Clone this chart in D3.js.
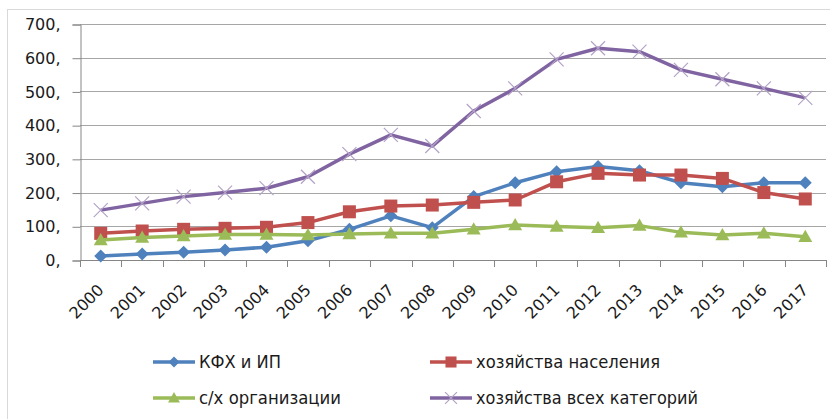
<!doctype html>
<html lang="ru">
<head>
<meta charset="utf-8" />
<title>Хозяйства</title>
<script src="https://d3js.org/d3.v7.min.js"></script>
<style>
  body { margin: 0; background: #fff; }
  svg { display: block; font-family: "DejaVu Sans", Verdana, sans-serif; }
</style>
</head>
<body>
<div id="chart"></div>
<script>
// years on the x axis
var years = ["2000","2001","2002","2003","2004","2005","2006","2007","2008",
             "2009","2010","2011","2012","2013","2014","2015","2016","2017"];

// values
var kfh   = [12, 18, 23, 30, 38, 57, 91, 131, 96, 188, 229, 262, 277, 265, 229, 217, 229, 229];
var naseleniya = [79, 86, 91, 94, 97, 111, 143, 160, 163, 171, 178, 232, 257, 252, 252, 242, 200, 181];
var orgs  = [59, 67, 71, 76, 76, 74, 77, 79, 79, 91, 104, 99, 96, 102, 82, 74, 79, 69];
var vse   = [148, 168, 188, 200, 213, 247, 314, 371, 338, 442, 509, 595, 628, 618, 564, 536, 509, 481];

var yTicks = [0, 100, 200, 300, 400, 500, 600, 700];

var series = [
  { name: "КФХ и ИП", values: kfh, color: "#4F81BD", marker: "diamond" },
  { name: "хозяйства населения", values: naseleniya, color: "#C0504D", marker: "square" },
  { name: "с/х организации", values: orgs, color: "#9BBB59", marker: "triangle" },
  { name: "хозяйства всех категорий", values: vse, color: "#8064A2", marker: "cross" }
];

var width = 830, height = 419,
    plot = { left: 80, right: 826, top: 24, bottom: 260 };

var svg = d3.select("#chart").append("svg")
    .attr("width", width)
    .attr("height", height);

// outer chart frame
svg.append("rect")
    .attr("x", 7.5).attr("y", 9.5)
    .attr("width", 840).attr("height", 430)
    .attr("fill", "none")
    .attr("stroke", "#d9d9d9");

var x = d3.scaleBand().domain(years).range([plot.left, plot.right]).padding(0);
var y = d3.scaleLinear().domain([0, 700]).range([plot.bottom, plot.top]);
var cx = function(i) { return x(years[i]) + x.bandwidth() / 2; };

// gridlines
svg.append("g")
    .selectAll("line")
    .data(yTicks.filter(function(d) { return d > 0; }))
    .enter().append("line")
    .attr("x1", plot.left).attr("x2", plot.right)
    .attr("y1", function(d) { return Math.round(y(d)) + 0.5; })
    .attr("y2", function(d) { return Math.round(y(d)) + 0.5; })
    .attr("stroke", "#a6a6a6")
    .attr("stroke-width", 1);

// y axis
var yAxis = d3.axisLeft(y).tickValues(yTicks).tickSize(8).tickPadding(12)
    .tickFormat(function(d) { return d + ","; });
svg.append("g")
    .attr("transform", "translate(" + (plot.left + 0.5) + ",0.5)")
    .call(yAxis)
    .call(function(g) {
      g.select(".domain").attr("stroke", "#868686");
      g.selectAll(".tick line").attr("stroke", "#868686");
      g.selectAll("text").attr("font-size", 16).attr("fill", "#1a1a1a")
        .attr("font-family", "DejaVu Sans");
    });

// x axis: ticks at band boundaries
svg.append("line")
    .attr("x1", plot.left).attr("x2", plot.right)
    .attr("y1", plot.bottom + 0.5).attr("y2", plot.bottom + 0.5)
    .attr("stroke", "#868686");
var bounds = years.map(function(d) { return x(d); }).concat([plot.right]);
svg.append("g").selectAll("line")
    .data(bounds)
    .enter().append("line")
    .attr("x1", function(d) { return Math.round(d) + 0.5; })
    .attr("x2", function(d) { return Math.round(d) + 0.5; })
    .attr("y1", plot.bottom).attr("y2", plot.bottom + 7)
    .attr("stroke", "#868686");

svg.append("g").selectAll("text")
    .data(years)
    .enter().append("text")
    .attr("transform", function(d, i) { return "translate(" + (cx(i) + 4) + "," + 291 + ") rotate(-45)"; })
    .attr("text-anchor", "end")
    .attr("font-size", 16)
    .attr("fill", "#1a1a1a")
    .text(function(d) { return d; });

// markers
function drawMarker(g, type, px, py, color, scale) {
  var s = scale || 1;
  if (type === "diamond") {
    var r = 6.5 * s;
    g.append("path")
      .attr("d", "M" + px + "," + (py - r) + "L" + (px + r) + "," + py + "L" + px + "," + (py + r) + "L" + (px - r) + "," + py + "Z")
      .attr("fill", color);
  } else if (type === "square") {
    var h = 6.5 * s;
    g.append("rect")
      .attr("x", px - h).attr("y", py - h)
      .attr("width", 2 * h).attr("height", 2 * h)
      .attr("fill", color);
  } else if (type === "triangle") {
    var t = 7 * s;
    g.append("path")
      .attr("d", "M" + px + "," + (py - t) + "L" + (px + t) + "," + (py + t * 0.75) + "L" + (px - t) + "," + (py + t * 0.75) + "Z")
      .attr("fill", color);
  } else if (type === "cross") {
    var c = 7 * s;
    g.append("path")
      .attr("d", "M" + (px - c) + "," + (py - c) + "L" + (px + c) + "," + (py + c) + "M" + (px - c) + "," + (py + c) + "L" + (px + c) + "," + (py - c))
      .attr("stroke", "#b3a2c7")
      .attr("stroke-width", 1.2)
      .attr("fill", "none");
  }
}

var line = d3.line()
    .x(function(d, i) { return cx(i); })
    .y(function(d) { return y(d); });

series.forEach(function(s) {
  var g = svg.append("g");
  g.append("path")
    .datum(s.values)
    .attr("d", line)
    .attr("fill", "none")
    .attr("stroke", s.color)
    .attr("stroke-width", 3.5)
    .attr("stroke-linejoin", "round");
  s.values.forEach(function(v, i) {
    drawMarker(g, s.marker, cx(i), y(v), s.color);
  });
});

// legend
var legendPos = [
  { x: 153, y: 362 }, { x: 430, y: 362 },
  { x: 153, y: 398 }, { x: 430, y: 398 }
];
var legendWidths = [82, 184, 142, 222];
series.forEach(function(s, i) {
  var p = legendPos[i];
  var g = svg.append("g");
  g.append("line")
    .attr("x1", p.x).attr("x2", p.x + 42)
    .attr("y1", p.y).attr("y2", p.y)
    .attr("stroke", s.color)
    .attr("stroke-width", 3.5);
  drawMarker(g, s.marker, p.x + 21, p.y, s.color, 0.85);
  g.append("text")
    .attr("x", p.x + 46)
    .attr("y", p.y + 6)
    .attr("font-size", 17)
    .attr("textLength", legendWidths[i])
    .attr("lengthAdjust", "spacingAndGlyphs")
    .attr("fill", "#1a1a1a")
    .text(s.name);
});
</script>
</body>
</html>
